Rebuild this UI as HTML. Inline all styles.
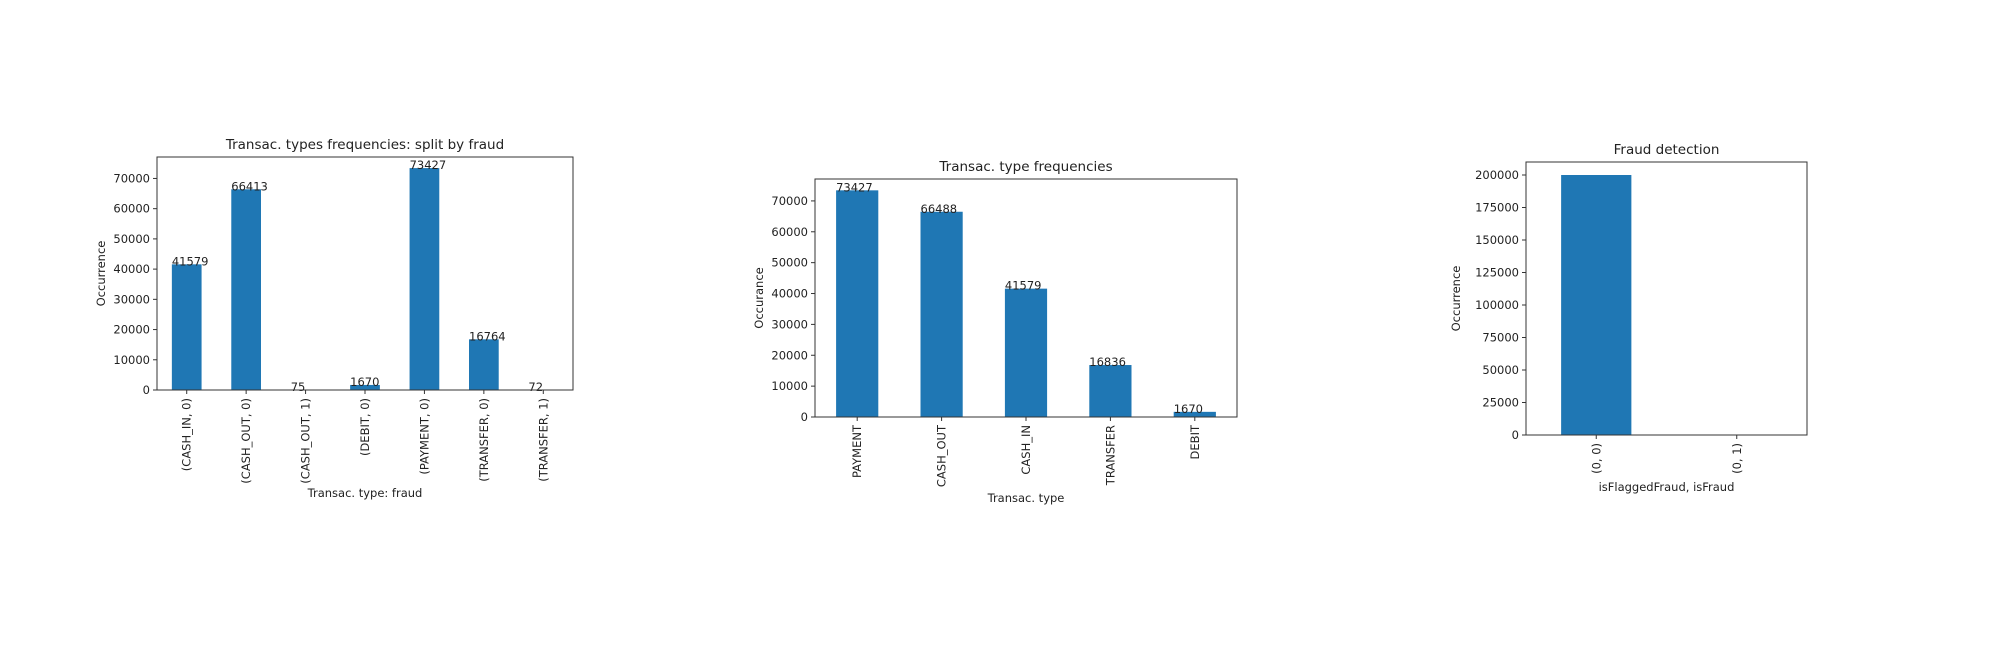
<!DOCTYPE html>
<html><head><meta charset="utf-8"><style>
body{margin:0;background:#fff;}
svg{display:block;font-family:"DejaVu Sans","Liberation Sans",sans-serif;}
</style></head><body>
<svg id="fig" width="2000" height="647" viewBox="0 0 2000 647" xmlns="http://www.w3.org/2000/svg"></svg>
<script>
// Chart 1 data
const c1Categories = ["(CASH_IN, 0)","(CASH_OUT, 0)","(CASH_OUT, 1)","(DEBIT, 0)","(PAYMENT, 0)","(TRANSFER, 0)","(TRANSFER, 1)"];
const c1Values = [41579, 66413, 75, 1670, 73427, 16764, 72];
const c1Ticks = [0,10000,20000,30000,40000,50000,60000,70000];
// Chart 2 data
const c2Categories = ["PAYMENT","CASH_OUT","CASH_IN","TRANSFER","DEBIT"];
const c2Values = [73427, 66488, 41579, 16836, 1670];
const c2Ticks = [0,10000,20000,30000,40000,50000,60000,70000];
// Chart 3 data
const c3Categories = ["(0, 0)","(0, 1)"];
const c3Values = [199999, 1];
const c3Ticks = [0,25000,50000,75000,100000,125000,150000,175000,200000];

const NS="http://www.w3.org/2000/svg";
const svg=document.getElementById('fig');
function mk(tag,attrs,parent,text){const e=document.createElementNS(NS,tag);for(const k in attrs)e.setAttribute(k,attrs[k]);if(text!==undefined)e.textContent=text;(parent||svg).appendChild(e);return e;}

function drawChart(name,box,cats,vals,ticks,ymax,title,xlabel,ylabel,annotate){
  const g=mk('g',{});
  
  
  const {l,r,t,b}=box;
  const yS=v=>b-(v/ymax)*(b-t);
  const step=(r-l)/cats.length;
  const xS=i=>l+step*(i+0.5);
  const bw=step*0.5;
  vals.forEach((v,i)=>{
    const rect=mk('rect',{x:xS(i)-bw/2,y:yS(v),width:bw,height:b-yS(v),fill:'#1f77b4'},g);
    
    
    if(annotate){
      const tx=mk('text',{x:xS(i)-bw/2,y:yS(v)+1,'font-size':11.5,fill:'#222'},g,String(v));
      
      
    }
  });
  const frame=mk('rect',{x:l,y:t,width:r-l,height:b-t,fill:'none',stroke:'#333','stroke-width':1},g);
  
  
  ticks.forEach(v=>{
    const y=yS(v);
    mk('line',{x1:l-4,x2:l,y1:y,y2:y,stroke:'#333'},g);
    const tl=mk('text',{x:l-7,y:y+4,'font-size':11.5,'text-anchor':'end',fill:'#222'},g,String(v));
    
    
  });
  cats.forEach((c,i)=>{
    const x=xS(i);
    mk('line',{x1:x,x2:x,y1:b,y2:b+4,stroke:'#333'},g);
    const tl=mk('text',{x:0,y:0,'font-size':11.5,'text-anchor':'end',fill:'#222',transform:`translate(${x+4},${b+8}) rotate(-90)`},g,c);
    
    
  });
  const tt=mk('text',{x:(l+r)/2,y:t-8,'font-size':13.5,'text-anchor':'middle',fill:'#222'},g,title);
  
  
  const xl=mk('text',{x:(l+r)/2,y:box.xly,'font-size':11.5,'text-anchor':'middle',fill:'#222'},g,xlabel);
  
  
  const yl=mk('text',{x:0,y:0,'font-size':11.5,'text-anchor':'middle',fill:'#222',transform:`translate(${box.ylx},${(t+b)/2}) rotate(-90)`},g,ylabel);
  
  
}
drawChart('chart-split-by-fraud',{l:157,r:573,t:157,b:390,xly:497,ylx:105},c1Categories,c1Values,c1Ticks,77098,'Transac. types frequencies: split by fraud','Transac. type: fraud','Occurrence',true);
drawChart('chart-type-frequencies',{l:815,r:1237,t:179,b:417,xly:502,ylx:763},c2Categories,c2Values,c2Ticks,77098,'Transac. type frequencies','Transac. type','Occurance',true);
drawChart('chart-fraud-detection',{l:1526,r:1807,t:162,b:435,xly:491,ylx:1460},c3Categories,c3Values,c3Ticks,210000,'Fraud detection','isFlaggedFraud, isFraud','Occurrence',false);
</script>
</body></html>
